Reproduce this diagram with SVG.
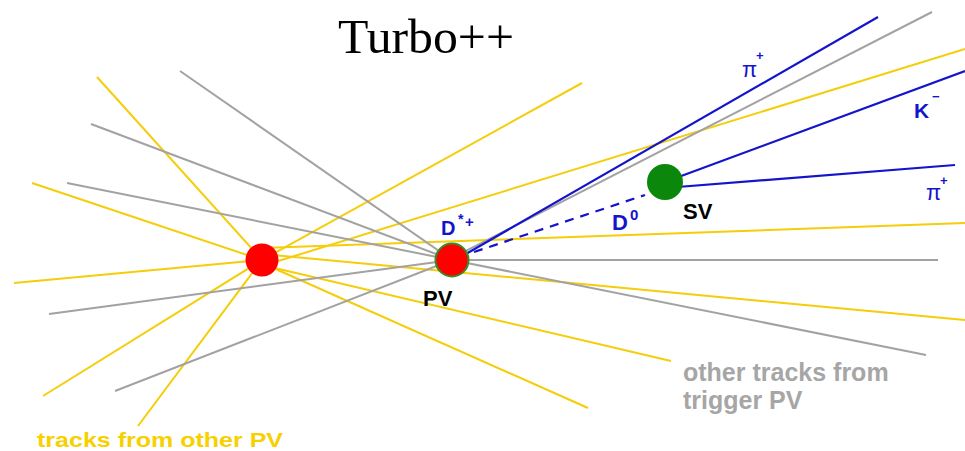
<svg xmlns="http://www.w3.org/2000/svg" width="965" height="451" viewBox="0 0 965 451">
<style>
.y{stroke:#f5cd0a;stroke-width:2;fill:none}
.g{stroke:#a2a2a2;stroke-width:2;fill:none}
.b{stroke:#1414cc;stroke-width:2.2;fill:none}
.d{stroke:#1414cc;stroke-width:2.2;fill:none;stroke-dasharray:9 7}
.s{font-family:"Liberation Sans",Arial,sans-serif;font-weight:bold}
.bl{fill:#1414cc}
.pi{font-family:"Liberation Sans",Arial,sans-serif;fill:#1414cc}
</style>
<rect width="965" height="451" fill="#fff"/>
<text id="title" x="338" y="53" font-family="'Liberation Serif','Times New Roman',serif" font-size="48" fill="#000" textLength="176" lengthAdjust="spacingAndGlyphs">Turbo++</text>
<g id="connectors">
  <g id="other-pv-tracks">
    <line class="y" x1="97" y1="77" x2="262" y2="260"/>
    <line class="y" x1="32" y1="183" x2="262" y2="260"/>
    <line class="y" x1="14" y1="283" x2="262" y2="260"/>
    <line class="y" x1="43" y1="396" x2="262" y2="260"/>
    <line class="y" x1="138" y1="426" x2="262" y2="260"/>
    <line class="y" x1="262" y1="260" x2="582" y2="83"/>
    <line class="y" x1="262" y1="266" x2="965" y2="49"/>
    <line class="y" x1="262" y1="248" x2="965" y2="223"/>
    <line class="y" x1="262" y1="254" x2="965" y2="320"/>
    <line class="y" x1="262" y1="265" x2="671" y2="361"/>
    <line class="y" x1="262" y1="263" x2="588" y2="408"/>
  </g>
  <g id="trigger-pv-tracks">
    <line class="g" x1="180" y1="71" x2="452" y2="260"/>
    <line class="g" x1="91" y1="124" x2="452" y2="260"/>
    <line class="g" x1="67" y1="183" x2="452" y2="260"/>
    <line class="g" x1="49" y1="314" x2="452" y2="260"/>
    <line class="g" x1="115" y1="391" x2="452" y2="260"/>
    <line class="g" x1="452" y1="258" x2="932" y2="12"/>
    <line class="g" x1="452" y1="260" x2="938" y2="260"/>
    <line class="g" x1="452" y1="260" x2="926" y2="355"/>
  </g>
  <g id="signal-tracks">
    <line class="b" x1="452" y1="262" x2="878" y2="17"/>
    <line class="d" x1="474" y1="252" x2="645" y2="195"/>
    <line class="b" x1="665" y1="182" x2="965" y2="71"/>
    <line class="b" x1="665" y1="188" x2="955" y2="165"/>
  </g>
</g>
<g id="other-pv">
  <circle cx="262" cy="260" r="16.5" fill="#ff0000"/>
</g>
<g id="pv">
  <circle cx="452" cy="260" r="16.5" fill="#ff0000" stroke="#3a8a22" stroke-width="2"/>
  <text class="s" x="423" y="306" font-size="22" fill="#000">PV</text>
</g>
<g id="sv">
  <circle cx="665" cy="182" r="18" fill="#0b870b"/>
  <text class="s" x="683" y="219" font-size="22" fill="#000">SV</text>
</g>
<g id="labels">
  <text class="s bl" x="441" y="235" font-size="20">D</text>
  <text class="s bl" x="458" y="224" font-size="14">*</text>
  <text class="s bl" x="465" y="227" font-size="15">+</text>
  <text class="s bl" x="612" y="230" font-size="22">D</text>
  <text class="s bl" x="630" y="220" font-size="15">0</text>
  <text class="pi" x="742" y="77" font-size="22">π</text>
  <text class="pi" x="756" y="60" font-size="13" font-weight="bold">+</text>
  <text class="s bl" x="914" y="118" font-size="21">K</text>
  <text class="s bl" x="932" y="101" font-size="13">−</text>
  <text class="pi" x="926" y="200" font-size="22">π</text>
  <text class="pi" x="940" y="185" font-size="13" font-weight="bold">+</text>
  <text class="s" x="37" y="447" font-size="20.5" fill="#f7d000" textLength="246" lengthAdjust="spacingAndGlyphs">tracks from other PV</text>
  <text class="s" x="683" y="381" font-size="25" fill="#a6a6a6">other tracks from</text>
  <text class="s" x="683" y="409" font-size="25" fill="#a6a6a6">trigger PV</text>
</g>
</svg>
